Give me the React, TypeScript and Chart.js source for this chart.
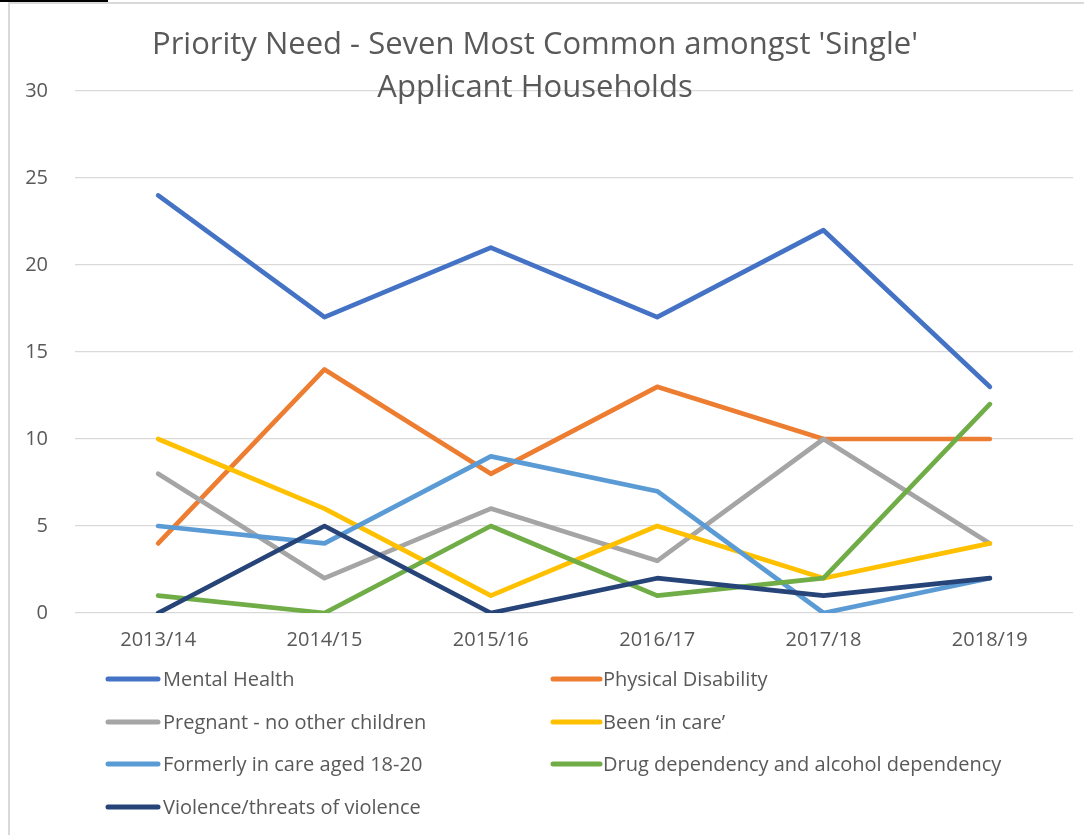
import React, { useEffect, useRef } from "react";
import { Chart, registerables } from "chart.js";

Chart.register(...registerables);

const categories = ["2013/14", "2014/15", "2015/16", "2016/17", "2017/18", "2018/19"];
const mentalHealth = [24, 17, 21, 17, 22, 13];
const physicalDisability = [4, 14, 8, 13, 10, 10];
const pregnant = [8, 2, 6, 3, 10, 4];
const beenInCare = [10, 6, 1, 5, 2, 4];
const formerlyInCare = [5, 4, 9, 7, 0, 2];
const drugAlcohol = [1, 0, 5, 1, 2, 12];
const violence = [0, 5, 0, 2, 1, 2];

const seriesNames = [
  "Mental Health",
  "Physical Disability",
  "Pregnant - no other children",
  "Been \u2018in care\u2019",
  "Formerly in care aged 18-20",
  "Drug dependency and alcohol dependency",
  "Violence/threats of violence",
];
const seriesValues = [mentalHealth, physicalDisability, pregnant, beenInCare, formerlyInCare, drugAlcohol, violence];
const seriesColors = ["#4472C4", "#ED7D31", "#A5A5A5", "#FFC000", "#5B9BD5", "#70AD47", "#264478"];

const titleLines = ["Priority Need - Seven Most Common amongst 'Single'", "Applicant Households"];
const yTicks = { min: 0, max: 30, step: 5 };

const TEXT = "#595959";
const FONT = "'Open Sans', sans-serif";

const titlePlugin = {
  id: "excelTitle",
  afterDraw(chart: any) {
    const ctx = chart.ctx;
    ctx.save();
    ctx.fillStyle = TEXT;
    ctx.font = `31px ${FONT}`;
    ctx.textAlign = "center";
    ctx.textBaseline = "alphabetic";
    ctx.fillText(titleLines[0], 535, 54);
    ctx.fillText(titleLines[1], 535, 97);
    ctx.restore();
  },
};

const legendPlugin = {
  id: "excelLegend",
  afterDraw(chart: any) {
    const ctx = chart.ctx;
    const colLine = [[108, 158], [553, 600]];
    const colText = [163, 603];
    const rowY = [679, 722, 764, 807];
    ctx.save();
    ctx.font = `20px ${FONT}`;
    ctx.textBaseline = "middle";
    ctx.textAlign = "left";
    chart.data.datasets.forEach((ds: any, i: number) => {
      const col = i % 2;
      const row = Math.floor(i / 2);
      const y = rowY[row];
      ctx.strokeStyle = ds.borderColor;
      ctx.lineWidth = 5;
      ctx.lineCap = "round";
      ctx.beginPath();
      ctx.moveTo(colLine[col][0], y);
      ctx.lineTo(colLine[col][1], y);
      ctx.stroke();
      ctx.fillStyle = TEXT;
      ctx.fillText(ds.label, colText[col], y + 1);
    });
    ctx.restore();
  },
};

export default function App() {
  const canvasRef = useRef<HTMLCanvasElement | null>(null);

  useEffect(() => {
    const canvas = canvasRef.current;
    if (!canvas) return;
    const chart = new Chart(canvas, {
      type: "line",
      data: {
        labels: categories,
        datasets: seriesNames.map((name, i) => ({
          label: name,
          data: seriesValues[i],
          borderColor: seriesColors[i],
          backgroundColor: seriesColors[i],
          borderWidth: 4.7,
          borderCapStyle: "round",
          borderJoinStyle: "round",
          pointRadius: 0,
          pointHoverRadius: 0,
          tension: 0,
          fill: false,
          order: seriesNames.length - 1 - i,
        })),
      },
      options: {
        responsive: false,
        animation: false,
        events: [],
        layout: { padding: { top: 91, left: 0, right: 11, bottom: 0 } },
        plugins: {
          legend: { display: false },
          title: { display: false },
          tooltip: { enabled: false },
        },
        scales: {
          x: {
            offset: true,
            grid: { display: false, drawTicks: false },
            border: { display: false },
            ticks: { color: TEXT, font: { family: FONT, size: 20 }, padding: 15, maxRotation: 0 },
            afterFit(scale: any) {
              scale.height = 222;
            },
          },
          y: {
            min: yTicks.min,
            max: yTicks.max,
            grid: { color: "#d9d9d9", lineWidth: 1.3, drawTicks: false },
            border: { display: false },
            ticks: { stepSize: yTicks.step, color: TEXT, font: { family: FONT, size: 20 }, padding: 27 },
            afterFit(scale: any) {
              scale.width = 75;
            },
          },
        },
      },
      plugins: [titlePlugin, legendPlugin],
    } as any);
    return () => chart.destroy();
  }, []);

  return (
    <div style={{ position: "fixed", left: 0, top: 0, width: 1084, height: 835, background: "#fff", overflow: "hidden" }}>
      <div style={{ position: "absolute", left: 0, top: 0, width: 108, height: 2, background: "#000" }} />
      <div style={{ position: "absolute", left: 8, top: 2, right: 0, height: 1.5, background: "#d9d9d9" }} />
      <div style={{ position: "absolute", left: 8, top: 2, width: 1.5, bottom: 0, background: "#d9d9d9" }} />
      <canvas ref={canvasRef} width={1084} height={835} style={{ position: "absolute", left: 0, top: 0 }} />
    </div>
  );
}
